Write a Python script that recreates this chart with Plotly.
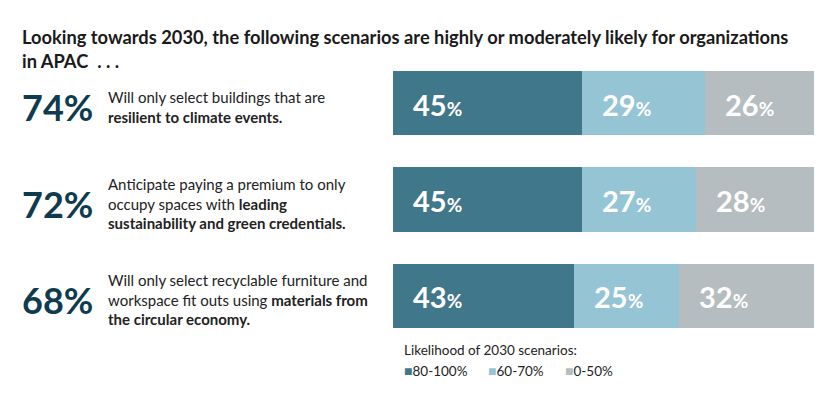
import plotly.graph_objects as go

# ---- data ----
scenario_totals = ["74%", "72%", "68%"]
scenario_texts = [
    "Will only select buildings that are<br><b>resilient to climate events.</b>",
    "Anticipate paying a premium to only<br>occupy spaces with <b>leading</b><br><b>sustainability and green credentials.</b>",
    "Will only select recyclable furniture and<br>workspace fit outs using <b>materials from</b><br><b>the circular economy.</b>",
]
categories = ["s1", "s2", "s3"]
series_names = ["80-100%", "60-70%", "0-50%"]
v_high = [45, 45, 43]
v_mid = [29, 27, 25]
v_low = [26, 28, 32]
series_values = [v_high, v_mid, v_low]
colors = ["#41778A", "#95C5D5", "#B5BDC0"]
legend_title = "Likelihood of 2030 scenarios:"

W, H = 833, 406
OFF = 8  # page body margin offset
ML, MR, MT, MB = 393 - OFF, W - (814 - OFF), 55 - OFF, H - (344 - OFF)
FONT = "Lato"

fig = go.Figure()
for name, vals, col in zip(series_names, series_values, colors):
    fig.add_trace(go.Bar(
        y=categories, x=vals, name=name, orientation="h",
        marker=dict(color=col, line=dict(width=0)),
        hoverinfo="skip", showlegend=False,
    ))

# in-bar labels derived from data
for i, cat in enumerate(categories):
    base = 0
    for vals in series_values:
        v = vals[i]
        fig.add_annotation(
            x=base, y=cat, xref="x", yref="y", xanchor="left", yanchor="middle",
            xshift=18, yshift=-1, showarrow=False,
            text=f"<b>{v}</b><span style='font-size:19px'><b>%</b></span>",
            font=dict(family=FONT, size=29, color="white"),
        )
        base += v

pw = W - ML - MR
ph = H - MT - MB
def px2x(px):
    return (px - OFF - ML) / pw
def py2y(py):
    return 1 - (py - OFF - MT) / ph

for i, cat in enumerate(categories):
    fig.add_annotation(
        x=px2x(20), y=cat, xref="paper", yref="y", xanchor="left", yanchor="middle",
        yshift=-4, showarrow=False, text=f"<b>{scenario_totals[i]}</b>",
        font=dict(family=FONT, size=36, color="#0E3B50"),
    )
    fig.add_annotation(
        x=px2x(106), y=cat, xref="paper", yref="y", xanchor="left", yanchor="middle",
        yshift=-4, showarrow=False, align="left", text=scenario_texts[i],
        font=dict(family=FONT, size=15, color="#222222"),
    )

# legend (as text)
fig.add_annotation(
    x=px2x(402), y=py2y(350), xref="paper", yref="paper", xanchor="left", yanchor="middle",
    showarrow=False, text=legend_title,
    font=dict(family=FONT, size=13.5, color="#222222"),
)
legend_x = [402, 486, 563]
for name, col, lx in zip(series_names, colors, legend_x):
    fig.add_annotation(
        x=px2x(lx), y=py2y(370), xref="paper", yref="paper", xanchor="left", yanchor="middle",
        showarrow=False,
        text=f"<span style='color:{col};font-size:14px'>■</span>{name}",
        font=dict(family=FONT, size=13.5, color="#222222"),
    )

fig.update_layout(
    width=W, height=H,
    margin=dict(l=ML, r=MR, t=MT, b=MB),
    paper_bgcolor="white", plot_bgcolor="white",
    barmode="stack", bargap=0.335,
    font=dict(family=FONT, color="#222222"),
    title=dict(
        text="<b>Looking towards 2030, the following scenarios are highly or moderately likely for organizations<br>in APAC  . . .</b>",
        x=(22 - OFF) / W, xref="container", xanchor="left",
        y=1 - 36 / H, yref="container", yanchor="top",
        font=dict(family=FONT, size=18.3, color="#1a1a1a"),
    ),
    xaxis=dict(range=[0, 100], visible=False, fixedrange=True),
    yaxis=dict(autorange="reversed", visible=False, fixedrange=True),
    showlegend=False,
)

fig.write_html("out.html")
